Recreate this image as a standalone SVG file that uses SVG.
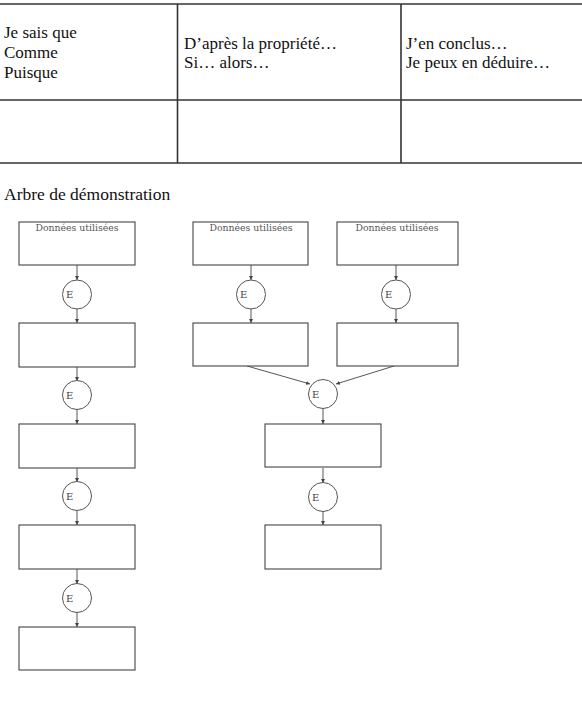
<svg xmlns="http://www.w3.org/2000/svg" width="582" height="714" viewBox="0 0 582 714">
<style>
.tl{stroke:#333;stroke-width:1.6;fill:none}
.tt{font-family:"Liberation Serif",serif;font-size:17px;fill:#111}
.box{fill:#fff;stroke:#444;stroke-width:1.1}
.cir{fill:#fff;stroke:#555;stroke-width:1}
.lbl{font-family:"DejaVu Serif","Liberation Serif",serif;font-size:9.3px;fill:#555}
.e{font-family:"DejaVu Serif","Liberation Serif",serif;font-size:10px;fill:#444}
.c{stroke:#444;stroke-width:0.9;fill:none;marker-end:url(#ah)}
</style>
<defs>
<marker id="ah" viewBox="0 0 6 6" refX="6" refY="3" markerWidth="4" markerHeight="4" orient="auto" markerUnits="userSpaceOnUse">
<path d="M0,0 L6,3 L0,6 z" fill="#444"/>
</marker>
</defs>
<rect width="582" height="714" fill="#fff"/>
<g id="table">
<line class="tl" x1="0" y1="4" x2="582" y2="4"/>
<line class="tl" x1="0" y1="100" x2="582" y2="100"/>
<line class="tl" x1="0" y1="163" x2="582" y2="163"/>
<line class="tl" x1="177.5" y1="4" x2="177.5" y2="163"/>
<line class="tl" x1="401" y1="4" x2="401" y2="163"/>
<text class="tt" x="4" y="38">Je sais que</text>
<text class="tt" x="4" y="58">Comme</text>
<text class="tt" x="4" y="78">Puisque</text>
<text class="tt" x="184" y="49">D’après la propriété…</text>
<text class="tt" x="184" y="68">Si… alors…</text>
<text class="tt" x="406" y="49">J’en conclus…</text>
<text class="tt" x="406" y="68">Je peux en déduire…</text>
</g>
<text class="tt" x="4" y="200" style="font-size:17.5px">Arbre de démonstration</text>
<g id="connectors">
<line class="c" x1="77" y1="265" x2="77" y2="280"/>
<line class="c" x1="77" y1="308" x2="77" y2="323"/>
<line class="c" x1="77" y1="367" x2="77" y2="381"/>
<line class="c" x1="77" y1="409" x2="77" y2="424"/>
<line class="c" x1="77" y1="468" x2="77" y2="482"/>
<line class="c" x1="77" y1="510" x2="77" y2="525"/>
<line class="c" x1="77" y1="569" x2="77" y2="584"/>
<line class="c" x1="77" y1="612" x2="77" y2="627"/>
<line class="c" x1="251" y1="265" x2="251" y2="280"/>
<line class="c" x1="251" y1="308" x2="251" y2="323"/>
<line class="c" x1="396" y1="265" x2="396" y2="280"/>
<line class="c" x1="396" y1="308" x2="396" y2="323"/>
<line class="c" x1="247" y1="366" x2="310" y2="384"/>
<line class="c" x1="394" y1="366" x2="336" y2="384"/>
<line class="c" x1="323" y1="408" x2="323" y2="424"/>
<line class="c" x1="323" y1="468" x2="323" y2="483"/>
<line class="c" x1="323" y1="511" x2="323" y2="525"/>
</g>
<g id="n1"><rect class="box" x="19" y="222" width="116" height="43"/><text class="lbl" x="77" y="231" text-anchor="middle">Données utilisées</text></g>
<g id="e1"><circle class="cir" cx="77" cy="294.5" r="14.5"/><text class="e" x="66" y="298">E</text></g>
<g id="n2"><rect class="box" x="19" y="323" width="116" height="44"/></g>
<g id="e2"><circle class="cir" cx="77" cy="395" r="14.5"/><text class="e" x="66" y="399">E</text></g>
<g id="n3"><rect class="box" x="19" y="424" width="116" height="44"/></g>
<g id="e3"><circle class="cir" cx="77" cy="496" r="14.5"/><text class="e" x="66" y="500">E</text></g>
<g id="n4"><rect class="box" x="19" y="525" width="116" height="44"/></g>
<g id="e4"><circle class="cir" cx="77" cy="598" r="14.5"/><text class="e" x="66" y="602">E</text></g>
<g id="n5"><rect class="box" x="19" y="627" width="116" height="43"/></g>
<g id="n6"><rect class="box" x="193" y="222" width="115" height="43"/><text class="lbl" x="251" y="231" text-anchor="middle">Données utilisées</text></g>
<g id="e5"><circle class="cir" cx="251" cy="294.5" r="14.5"/><text class="e" x="240" y="298">E</text></g>
<g id="n7"><rect class="box" x="193" y="323" width="115" height="43"/></g>
<g id="n8"><rect class="box" x="337" y="222" width="121" height="43"/><text class="lbl" x="397" y="231" text-anchor="middle">Données utilisées</text></g>
<g id="e6"><circle class="cir" cx="396" cy="294.5" r="14.5"/><text class="e" x="385" y="298">E</text></g>
<g id="n9"><rect class="box" x="337" y="323" width="121" height="43"/></g>
<g id="e7"><circle class="cir" cx="323" cy="394" r="14.5"/><text class="e" x="312" y="398">E</text></g>
<g id="n10"><rect class="box" x="265" y="424" width="116" height="43"/></g>
<g id="e8"><circle class="cir" cx="323" cy="497" r="14.5"/><text class="e" x="312" y="501">E</text></g>
<g id="n11"><rect class="box" x="265" y="525" width="116" height="44"/></g>
</svg>
